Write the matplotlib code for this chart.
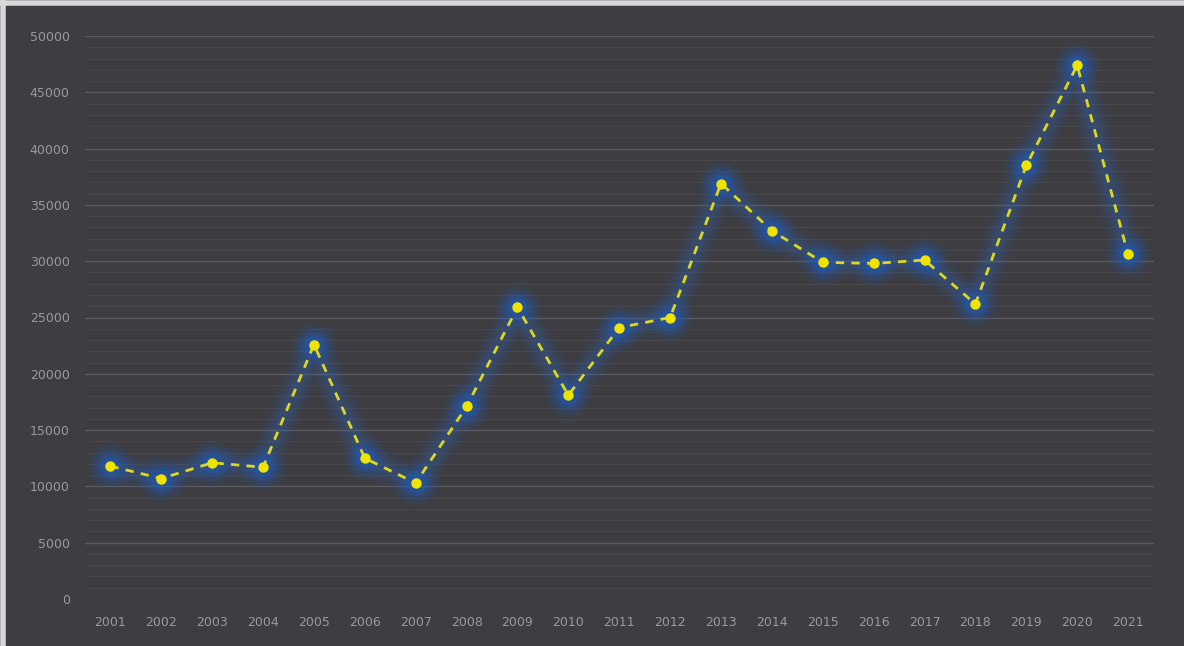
import matplotlib
matplotlib.use("Agg")
import matplotlib.pyplot as plt
from matplotlib.lines import Line2D
from matplotlib.ticker import MultipleLocator

years = [str(y) for y in range(2001, 2022)]
values = [11800, 10700, 12100, 11700, 22600, 12500, 10300, 17100, 25900, 18100,
          24100, 25000, 36900, 32700, 29900, 29800, 30100, 26200, 38500, 47400, 30600]

bg = "#3d3d42"
fig = plt.figure(figsize=(11.84, 6.46), dpi=100, facecolor=bg)
ax = fig.add_axes([85/1184, 47/646, (1153.5-85)/1184, 563/646])
ax.set_facecolor(bg)

x = list(range(len(years)))

# glow
for lw, a in [(24, 0.05), (18, 0.07), (13, 0.09), (8, 0.12)]:
    ax.plot(x, values, color="#2a6cd0", lw=lw, alpha=a, solid_capstyle="round",
            solid_joinstyle="round", zorder=2)
for ms, a in [(32, 0.10), (25, 0.14), (19, 0.22), (14, 0.30)]:
    ax.plot(x, values, ls="none", marker="o", ms=ms, color="#1e5cc0", alpha=a,
            markeredgewidth=0, zorder=3)

ax.plot(x, values, color="#dcd81e", lw=2.0, ls=(0, (3, 2.6)), zorder=4)
ax.plot(x, values, ls="none", marker="o", ms=7.5, color="#eee400",
        markeredgewidth=0, zorder=5)

ax.set_xlim(-0.5, len(years) - 0.5)
ax.set_ylim(0, 50000)
ax.set_xticks(x)
ax.set_xticklabels(years)
ax.yaxis.set_major_locator(MultipleLocator(5000))
ax.yaxis.set_minor_locator(MultipleLocator(1000))
ax.grid(axis="y", which="major", color="#5a5a60", lw=1.0, zorder=0)
ax.grid(axis="y", which="minor", color="#46464b", lw=0.8, zorder=0)
ax.set_axisbelow(True)
for s in ax.spines.values():
    s.set_visible(False)
ax.tick_params(axis="both", which="both", length=0, colors="#9a9a9e", labelsize=9)
ax.tick_params(axis="y", pad=11)
ax.tick_params(axis="x", pad=12)

# light border on top and left
fig.add_artist(Line2D([0, 1], [1 - 2.5/646, 1 - 2.5/646], transform=fig.transFigure,
                      color="#d8d8d8", lw=4))
fig.add_artist(Line2D([2.5/1184, 2.5/1184], [0, 1], transform=fig.transFigure,
                      color="#d8d8d8", lw=4))

fig.savefig("out.png", dpi=100, facecolor=bg)
